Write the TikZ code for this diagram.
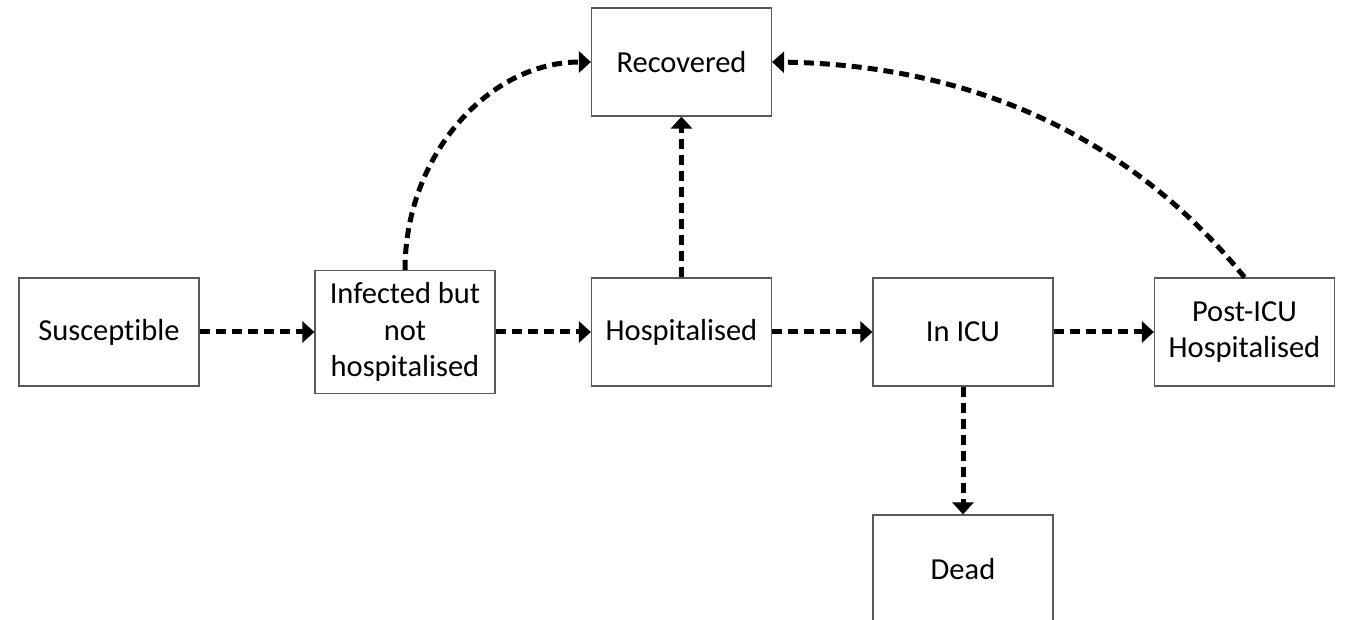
\documentclass[tikz,border=0pt]{standalone}
\usepackage{fontspec}
\setmainfont{Carlito}[Ligatures=NoCommon]
\usetikzlibrary{arrows.meta}
\begin{document}
\begin{tikzpicture}[x=1pt,y=-1pt,
  box/.style={draw=black!65, line width=1.2pt, fill=white, minimum width=180pt, minimum height=108pt, inner sep=0pt, align=center, font=\fontsize{30.5}{36.5}\selectfont},
  flow/.style={line width=5pt, dash pattern=on 10pt off 6pt, -{Triangle[length=12pt,width=21pt]}}]
\useasboundingbox (0,0) rectangle (1345,620);
\clip (0,0) rectangle (1345,620);
\node[box] (S) at (109,332) {Susceptible};
\node[box, minimum height=123pt] (I) at (405,332) {Infected but\\not\\hospitalised};
\node[box] (H) at (681.5,332) {Hospitalised};
\node[box] (R) at (681.5,62) {Recovered};
\node[box] (C) at (963,332) {In ICU};
\node[box] (P) at (1244.5,332) {Post-ICU\\Hospitalised};
\node[box] (D) at (963,569) {Dead};
\draw[flow] (S.east) -- (I.west);
\draw[flow] (I.east) -- (H.west);
\draw[flow] (H.east) -- (C.west);
\draw[flow] (C.east) -- (P.west);
\draw[flow] (H.north) -- (R.south);
\draw[flow] (C.south) -- (D.north);
\draw[flow] (I.north) .. controls (405,155) and (489,62) .. (R.west);
\draw[flow] (P.north) .. controls (1150,160) and (1000,65) .. (R.east);
\end{tikzpicture}
\end{document}
